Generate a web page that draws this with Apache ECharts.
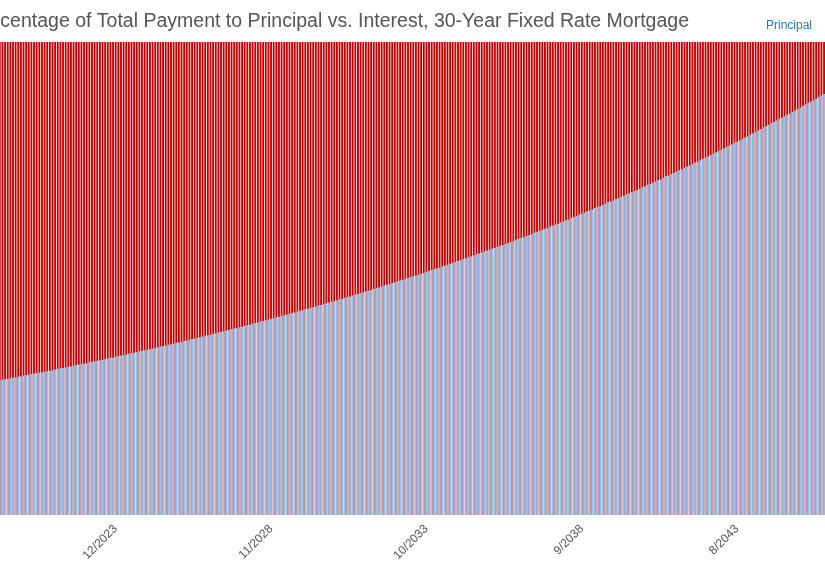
<!DOCTYPE html>
<html>
<head>
<meta charset="utf-8">
<script src="https://cdn.jsdelivr.net/npm/echarts@6/dist/echarts.min.js"></script>
<style>
html,body{margin:0;padding:0;width:825px;height:575px;overflow:hidden;background:#fff;position:relative}
#main{position:absolute;left:-41px;top:0;width:948px;height:575px}
</style>
</head>
<body>
<div id="main"></div>
<script>
// share of each monthly payment going to principal (%), 1/2019 .. 12/2048
var principalPct = [
27.0,27.1,27.2,27.3,27.4,27.5,27.6,27.7,27.8,27.9,28.0,28.1,
28.2,28.3,28.4,28.5,28.6,28.7,28.8,28.9,29.0,29.1,29.2,29.3,
29.5,29.6,29.7,29.8,29.9,30.0,30.1,30.2,30.3,30.4,30.5,30.6,
30.8,30.9,31.0,31.1,31.2,31.3,31.4,31.6,31.7,31.8,31.9,32.0,
32.1,32.3,32.4,32.5,32.6,32.7,32.8,33.0,33.1,33.2,33.3,33.5,
33.6,33.7,33.8,33.9,34.1,34.2,34.3,34.4,34.6,34.7,34.8,34.9,
35.1,35.2,35.3,35.5,35.6,35.7,35.8,36.0,36.1,36.2,36.4,36.5,
36.6,36.8,36.9,37.0,37.2,37.3,37.4,37.6,37.7,37.9,38.0,38.1,
38.3,38.4,38.6,38.7,38.8,39.0,39.1,39.3,39.4,39.5,39.7,39.8,
40.0,40.1,40.3,40.4,40.6,40.7,40.9,41.0,41.2,41.3,41.5,41.6,
41.8,41.9,42.1,42.2,42.4,42.5,42.7,42.8,43.0,43.2,43.3,43.5,
43.6,43.8,43.9,44.1,44.3,44.4,44.6,44.8,44.9,45.1,45.2,45.4,
45.6,45.7,45.9,46.1,46.2,46.4,46.6,46.7,46.9,47.1,47.3,47.4,
47.6,47.8,48.0,48.1,48.3,48.5,48.7,48.8,49.0,49.2,49.4,49.6,
49.7,49.9,50.1,50.3,50.5,50.6,50.8,51.0,51.2,51.4,51.6,51.8,
52.0,52.1,52.3,52.5,52.7,52.9,53.1,53.3,53.5,53.7,53.9,54.1,
54.3,54.5,54.7,54.9,55.1,55.3,55.5,55.7,55.9,56.1,56.3,56.5,
56.7,56.9,57.1,57.3,57.5,57.7,57.9,58.2,58.4,58.6,58.8,59.0,
59.2,59.4,59.7,59.9,60.1,60.3,60.5,60.7,61.0,61.2,61.4,61.6,
61.9,62.1,62.3,62.5,62.8,63.0,63.2,63.5,63.7,63.9,64.2,64.4,
64.6,64.9,65.1,65.3,65.6,65.8,66.1,66.3,66.5,66.8,67.0,67.3,
67.5,67.8,68.0,68.3,68.5,68.7,69.0,69.3,69.5,69.8,70.0,70.3,
70.5,70.8,71.0,71.3,71.6,71.8,72.1,72.3,72.6,72.9,73.1,73.4,
73.7,73.9,74.2,74.5,74.7,75.0,75.3,75.6,75.8,76.1,76.4,76.7,
77.0,77.2,77.5,77.8,78.1,78.4,78.7,78.9,79.2,79.5,79.8,80.1,
80.4,80.7,81.0,81.3,81.6,81.9,82.2,82.5,82.8,83.1,83.4,83.7,
84.0,84.3,84.6,84.9,85.2,85.5,85.8,86.1,86.5,86.8,87.1,87.4,
87.7,88.0,88.4,88.7,89.0,89.3,89.7,90.0,90.3,90.6,91.0,91.3,
91.6,92.0,92.3,92.6,93.0,93.3,93.7,94.0,94.3,94.7,95.0,95.4,
95.7,96.1,96.4,96.8,97.1,97.5,97.8,98.2,98.6,98.9,99.3,99.6
];
var startYear = 2019;
var months = [];
for (var i = 0; i < principalPct.length; i++) {
    months.push(((i % 12) + 1) + '/' + (startYear + Math.floor(i / 12)));
}

var myChart = echarts.init(document.getElementById('main'));
var option = {
    animation: false,
    title: {
        text: 'Percentage of Total Payment to Principal vs. Interest, 30-Year Fixed Rate Mortgage',
        left: 6,
        top: 7,
        textStyle: {
            fontFamily: 'Liberation Sans, Arial, sans-serif',
            fontSize: 19.5,
            fontWeight: 'normal',
            color: '#555'
        }
    },
    legend: {
        data: ['Principal'],
        icon: 'none',
        left: 772,
        top: 14,
        textStyle: {
            color: '#2a7ab9',
            fontSize: 12,
            fontFamily: 'Liberation Sans, Arial, sans-serif'
        }
    },
    grid: {
        left: 0,
        right: 0,
        top: 42,
        bottom: 60,
        containLabel: false,
        outerBoundsMode: 'none'
    },
    xAxis: {
        type: 'category',
        data: months,
        axisLine: {show: false},
        axisTick: {show: false},
        axisLabel: {
            interval: 58,
            rotate: 45,
            margin: 12,
            color: '#555',
            fontSize: 12,
            fontFamily: 'Liberation Sans, Arial, sans-serif'
        }
    },
    yAxis: {
        type: 'value',
        min: 0,
        max: 100,
        show: false
    },
    series: [{
        name: 'Principal',
        type: 'bar',
        barCategoryGap: '30%',
        showBackground: true,
        backgroundStyle: {
            color: '#c00000'
        },
        itemStyle: {
            color: '#9cc0e6'
        },
        data: principalPct
    }]
};
myChart.setOption(option);
</script>
</body>
</html>
